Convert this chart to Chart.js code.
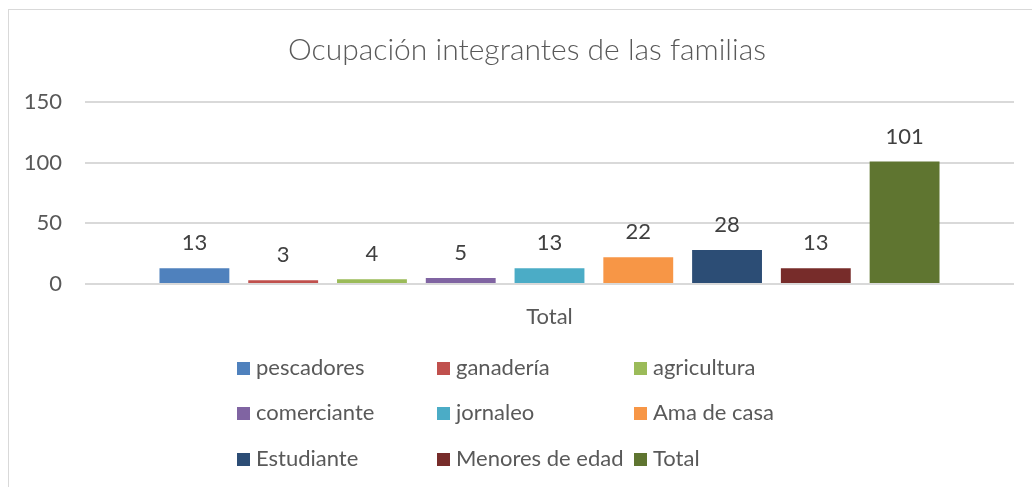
<!DOCTYPE html>
<html>
<head>
<meta charset="utf-8">
<script src="https://cdn.jsdelivr.net/npm/chart.js@4.4.1/dist/chart.umd.min.js"></script>
<style>
  html, body { margin: 0; padding: 0; background: #fff; }
  #wrap { position: relative; width: 1032px; height: 487px; }
  #frame { position: absolute; left: 8px; top: 9px; width: 1040px; height: 500px; border: 1px solid #d9d9d9; box-sizing: border-box; }
  canvas { position: absolute; left: 0; top: 0; }
</style>
</head>
<body>
<div id="wrap">
  <div id="frame"></div>
  <canvas id="bar-chart" width="1032" height="487"></canvas>
</div>
<script>
// data
var chartTitle = "Ocupación integrantes de las familias";
var categories = ["Total"];
var seriesNames = ["pescadores", "ganadería", "agricultura", "comerciante", "jornaleo",
                   "Ama de casa", "Estudiante", "Menores de edad", "Total"];
var seriesValues = [13, 3, 4, 5, 13, 22, 28, 13, 101];
var seriesColors = ["#4f81bd", "#c0504d", "#9bbb59", "#8064a2", "#4bacc6",
                    "#f79646", "#2c4d75", "#772c2a", "#5f7530"];
var yTicks = [0, 50, 100, 150];

var textColor = "#595959";
var fontFamily = "Lato, 'Open Sans', sans-serif";

// title, centred a bit right of the canvas middle like the original
var titlePlugin = {
    id: 'titlePlugin',
    afterDraw: function (chart) {
        var ctx = chart.ctx;
        ctx.save();
        ctx.font = "300 30px " + fontFamily;
        ctx.fillStyle = textColor;
        ctx.textAlign = "center";
        ctx.textBaseline = "middle";
        ctx.fillText(chartTitle, 527, 50);
        ctx.restore();
    }
};

// value labels above each bar
var valueLabels = {
    id: 'valueLabels',
    afterDatasetsDraw: function (chart) {
        var ctx = chart.ctx;
        ctx.save();
        ctx.font = "22px " + fontFamily;
        ctx.fillStyle = "#404040";
        ctx.textAlign = "center";
        ctx.textBaseline = "middle";
        chart.data.datasets.forEach(function (ds, i) {
            chart.getDatasetMeta(i).data.forEach(function (bar, j) {
                ctx.fillText(ds.data[j], bar.x, bar.y - 25);
            });
        });
        ctx.restore();
    }
};

// legend laid out in a 3 column grid like the original
var gridLegend = {
    id: 'gridLegend',
    afterDraw: function (chart) {
        var ctx = chart.ctx;
        var cols = [237, 437, 634];
        var rows = [368, 413, 459];
        ctx.save();
        ctx.font = "22px " + fontFamily;
        ctx.textBaseline = "middle";
        ctx.textAlign = "left";
        chart.data.datasets.forEach(function (ds, i) {
            var x = cols[i % 3], y = rows[Math.floor(i / 3)];
            ctx.fillStyle = ds.backgroundColor;
            ctx.fillRect(x, y - 6, 13, 13);
            ctx.fillStyle = textColor;
            ctx.fillText(ds.label, x + 19, y);
        });
        ctx.restore();
    }
};

var datasets = seriesNames.map(function (name, i) {
    return {
        label: name,
        data: [seriesValues[i]],
        backgroundColor: seriesColors[i],
        categoryPercentage: 0.86,
        barPercentage: 0.787
    };
});

new Chart(document.getElementById("bar-chart"), {
    type: 'bar',
    data: { labels: categories, datasets: datasets },
    options: {
        responsive: false,
        animation: false,
        layout: { padding: { left: 0, right: 18, top: 102, bottom: 158 } },
        plugins: {
            legend: { display: false },
            tooltip: { enabled: false },
            title: { display: false }
        },
        scales: {
            x: {
                grid: { display: false },
                border: { display: false },
                ticks: { color: textColor, font: { family: fontFamily, size: 22 }, padding: 12 },
                afterFit: function (s) { s.height = 45; }
            },
            y: {
                min: 0, max: 150,
                afterBuildTicks: function (s) { s.ticks = yTicks.map(function (v) { return { value: v }; }); },
                grid: { color: "#d9d9d9", lineWidth: 2, drawTicks: false },
                border: { display: false },
                ticks: { color: textColor, font: { family: fontFamily, size: 22 }, padding: 23 },
                afterFit: function (s) { s.width = 85; }
            }
        }
    },
    plugins: [titlePlugin, valueLabels, gridLegend]
});
</script>
</body>
</html>
